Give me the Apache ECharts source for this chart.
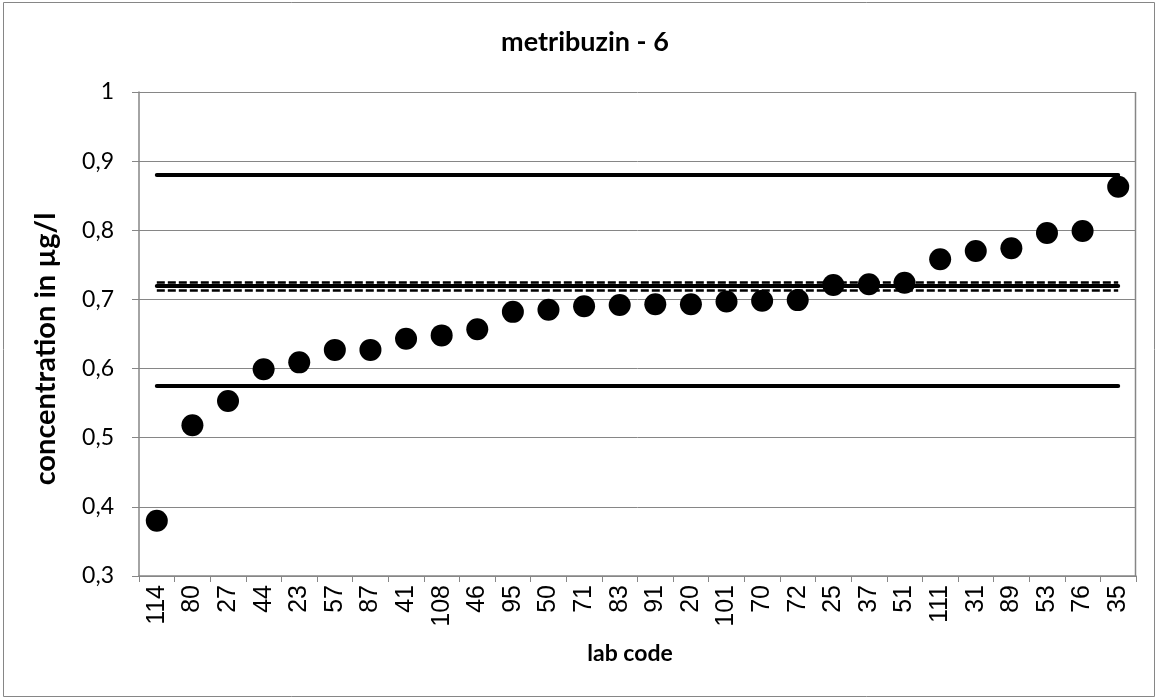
<!DOCTYPE html>
<html>
<head>
<meta charset="utf-8">
<script src="https://cdn.jsdelivr.net/npm/echarts@6/dist/echarts.min.js"></script>
<style>
html,body{margin:0;padding:0;background:#fff;}
#chart{width:1157px;height:699px;}
</style>
</head>
<body>
<div id="chart"></div>
<script>
const labCodes = ['114','80','27','44','23','57','87','41','108','46','95','50','71','83','91','20','101','70','72','25','37','51','111','31','89','53','76','35'];
const concentrations = [0.380,0.518,0.553,0.599,0.609,0.627,0.627,0.643,0.648,0.657,0.682,0.685,0.690,0.692,0.693,0.693,0.697,0.698,0.699,0.721,0.722,0.724,0.758,0.770,0.774,0.796,0.799,0.863];
const yTicks = [0.3,0.4,0.5,0.6,0.7,0.8,0.9,1.0];
const upperLimit = 0.880;
const lowerLimit = 0.575;
const assignedValue = 0.720;
const assignedUpper = 0.7255;
const assignedLower = 0.7135;
const chartTitle = 'metribuzin - 6';
const xTitle = 'lab code';
const yTitle = 'concentration in µg/l';

const first = labCodes[0], last = labCodes[labCodes.length-1];
function hLine(v){ return [{coord:[first, v]},{coord:[last, v]}]; }

const chart = echarts.init(document.getElementById('chart'));
const fontCal = 'Lato';
const fontArial = '"Liberation Sans"';
chart.setOption({
  animation:false,
  backgroundColor:'#ffffff',
  grid:{left:139,right:21,top:92,bottom:123},
  xAxis:{
    type:'category',
    data:labCodes,
    boundaryGap:true,
    axisLine:{lineStyle:{color:'#868686',width:1.5}},
    axisTick:{show:true,length:6,lineStyle:{color:'#868686'}},
    axisLabel:{
      rotate:90,interval:0,margin:9,
      fontFamily:fontArial,fontSize:25,color:'#000'
    },
    splitLine:{show:false}
  },
  yAxis:{
    type:'value',
    min:0.3,max:1.0,interval:0.1,
    axisLine:{show:true,lineStyle:{color:'#868686',width:1.5}},
    axisTick:{show:true,inside:false,length:7,lineStyle:{color:'#868686'}},
    axisLabel:{
      fontFamily:fontCal,fontSize:23,color:'#000',margin:25,
      formatter:function(v){
        const t = yTicks.find(x=>Math.abs(x-v)<1e-9);
        const val = (t===undefined?v:t);
        return (Math.round(val*10)/10).toString().replace('.',',');
      }
    },
    splitLine:{show:true,lineStyle:{color:'#868686',width:1}}
  },
  graphic:[{
    type:'rect',
    shape:{x:3.5,y:2.5,width:1151,height:694},
    style:{fill:'none',stroke:'#868686',lineWidth:1},
    silent:true,z:-10
  },{
    type:'line',
    shape:{x1:1135.5,y1:92,x2:1135.5,y2:576},
    style:{stroke:'#868686',lineWidth:1.5},
    silent:true
  },{
    type:'text',
    x:585,y:42,
    style:{text:chartTitle,fontFamily:fontCal,fontWeight:'bold',fontSize:27,fill:'#000',textAlign:'center',textVerticalAlign:'middle'},
    silent:true
  },{
    type:'text',
    x:630,y:654,
    style:{text:xTitle,fontFamily:fontCal,fontWeight:'bold',fontSize:23,fill:'#000',textAlign:'center',textVerticalAlign:'middle'},
    silent:true
  },{
    type:'text',
    x:46,y:349,
    rotation:Math.PI/2,
    style:{text:yTitle,fontFamily:fontCal,fontWeight:'bold',fontSize:29,fill:'#000',textAlign:'center',textVerticalAlign:'middle'},
    silent:true
  }],
  series:[
    {
      type:'line',
      data:[],
      markLine:{
        silent:true,symbol:['none','none'],label:{show:false},
        data:[hLine(upperLimit),hLine(lowerLimit),hLine(assignedValue)],
        lineStyle:{color:'#000',width:4,type:'solid',cap:'round'}
      },
      z:2
    },
    {
      type:'line',
      data:[],
      markLine:{
        silent:true,symbol:['none','none'],label:{show:false},
        data:[hLine(assignedUpper),hLine(assignedLower)],
        lineStyle:{color:'#000',width:2.5,type:[8,3]}
      },
      z:2
    },
    {
      type:'scatter',
      data:concentrations,
      symbol:'circle',
      symbolSize:22,
      itemStyle:{color:'#000',opacity:1},
      z:5
    }
  ]
});
</script>
</body>
</html>
